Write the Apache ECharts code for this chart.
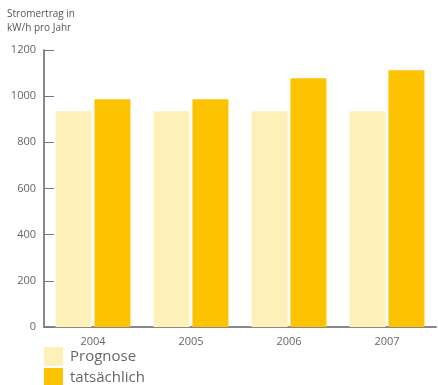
<!DOCTYPE html>
<html><head><meta charset="utf-8">
<script src="https://cdn.jsdelivr.net/npm/echarts@6/dist/echarts.min.js"></script>
<style>html,body{margin:0;padding:0;background:#fff}#c{width:438px;height:385px}</style>
</head><body><div id="c"></div>
<script>
const categories = ['2004','2005','2006','2007'];
const prognose = [935, 935, 935, 935];
const tatsaechlich = [987, 987, 1078, 1112];
const seriesNames = ['Prognose','tatsächlich'];
const yTitle = 'Stromertrag in\nkW/h pro Jahr';

const font = 'Open Sans';
const chart = echarts.init(document.getElementById('c'));
chart.setOption({
  animation: false,
  textStyle: {fontFamily: font},
  title: {text: yTitle, left: 7, top: 7, padding: 0, textStyle: {fontFamily: font, fontSize: 10, fontWeight: 'normal', color: '#555', lineHeight: 14}},
  legend: {
    data: seriesNames, orient: 'vertical', left: 44, top: 347, height: 60, itemWidth: 19, itemHeight: 19, itemGap: 2,
    icon: 'rect', textStyle: {fontFamily: font, fontSize: 15, color: '#666', padding: [0,0,0,2]}, padding: 0
  },
  grid: {left: 44, right: 2, top: 50, bottom: 58, containLabel: false},
  xAxis: {
    type: 'category', data: categories,
    axisLine: {lineStyle: {color: '#888', width: 2}},
    axisTick: {show: false},
    axisLabel: {color: '#666', fontSize: 11, margin: 9}
  },
  yAxis: {
    type: 'value', min: 0, max: 1200, interval: 200,
    axisLine: {show: true, lineStyle: {color: '#888', width: 2}},
    axisTick: {show: true, inside: true, length: 10, lineStyle: {color: '#777', width: 1}},
    splitLine: {show: false},
    axisLabel: {color: '#666', fontSize: 11, margin: 8, formatter: v => String(v)}
  },
  series: [
    {name: seriesNames[0], type: 'bar', data: prognose, barWidth: 36, barGap: '8%', itemStyle: {color: '#fdf0b9'}},
    {name: seriesNames[1], type: 'bar', data: tatsaechlich, barWidth: 36, itemStyle: {color: '#fdc300'}}
  ]
});
</script></body></html>
